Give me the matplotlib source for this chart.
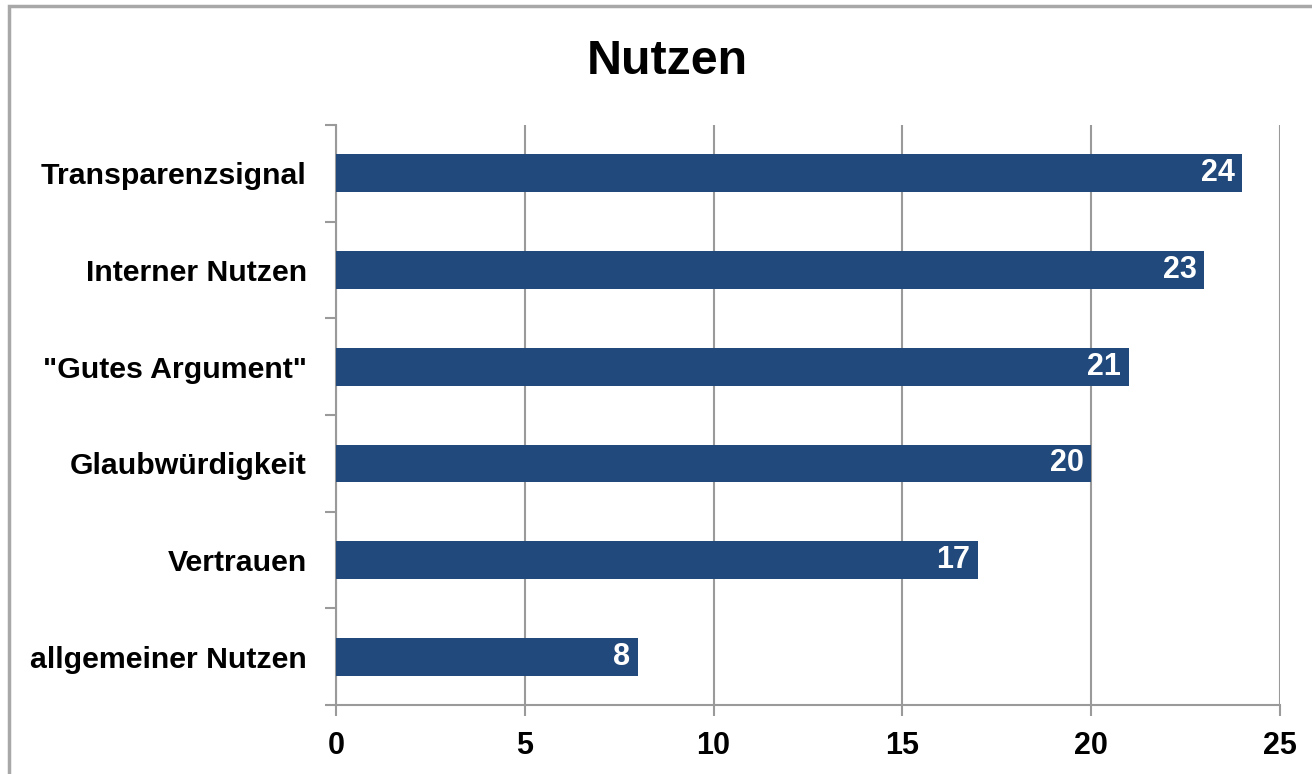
import matplotlib.pyplot as plt
from matplotlib.patches import Rectangle

categories = ['allgemeiner Nutzen', 'Vertrauen', 'Glaubwürdigkeit',
              '"Gutes Argument"', 'Interner Nutzen', 'Transparenzsignal']
values = [8, 17, 20, 21, 23, 24]
xticks = [0, 5, 10, 15, 20, 25]

plt.rcParams['font.family'] = ['Liberation Sans', 'DejaVu Sans']
plt.rcParams['font.weight'] = 'bold'

bar_color = '#21497b'
grid_color = '#9a9a9a'

fig = plt.figure(figsize=(13.12, 7.74), dpi=100)
ax = fig.add_axes([0.2561, 0.0891, 0.9756 - 0.2561, 0.8385 - 0.0891])

ypos = list(range(len(categories)))
bars = ax.barh(ypos, values, height=0.39, color=bar_color, zorder=3)

for b, v in zip(bars, values):
    ax.annotate(str(v), (b.get_width(), b.get_y() + b.get_height() / 2),
                xytext=(-5.5, 0), textcoords='offset points',
                ha='right', va='center', color='white',
                fontsize=22, fontweight='bold', zorder=4)

ax.set_xlim(0, 25)
ax.set_ylim(-0.5, len(categories) - 0.5)
ax.set_xticks(xticks)
ax.set_xticklabels([str(t) for t in xticks])
ax.set_yticks(ypos)
ax.set_yticklabels(categories)
ax.set_yticks([i - 0.5 for i in range(len(categories) + 1)], minor=True)

ax.xaxis.grid(True, color=grid_color, linewidth=1.5, zorder=0)
ax.tick_params(axis='x', length=8, width=1.5, color=grid_color,
               labelsize=22, pad=11, direction='out')
ax.tick_params(axis='y', which='major', length=0, labelsize=21.8, pad=21)
ax.tick_params(axis='y', which='minor', length=8, width=1.5, color=grid_color)

for side in ['top', 'right']:
    ax.spines[side].set_visible(False)
for side in ['left', 'bottom']:
    ax.spines[side].set_color(grid_color)
    ax.spines[side].set_linewidth(1.5)

fig.text(0.509, 0.921, 'Nutzen', ha='center', va='center',
         fontsize=34.8, fontweight='bold')

fig.patches.append(Rectangle((0.007, -0.1), 1.2, 0.1 + 0.9925,
                             transform=fig.transFigure, fill=False,
                             edgecolor='#a8a8a8', linewidth=2.5))

fig.savefig('out.png', dpi=100)
